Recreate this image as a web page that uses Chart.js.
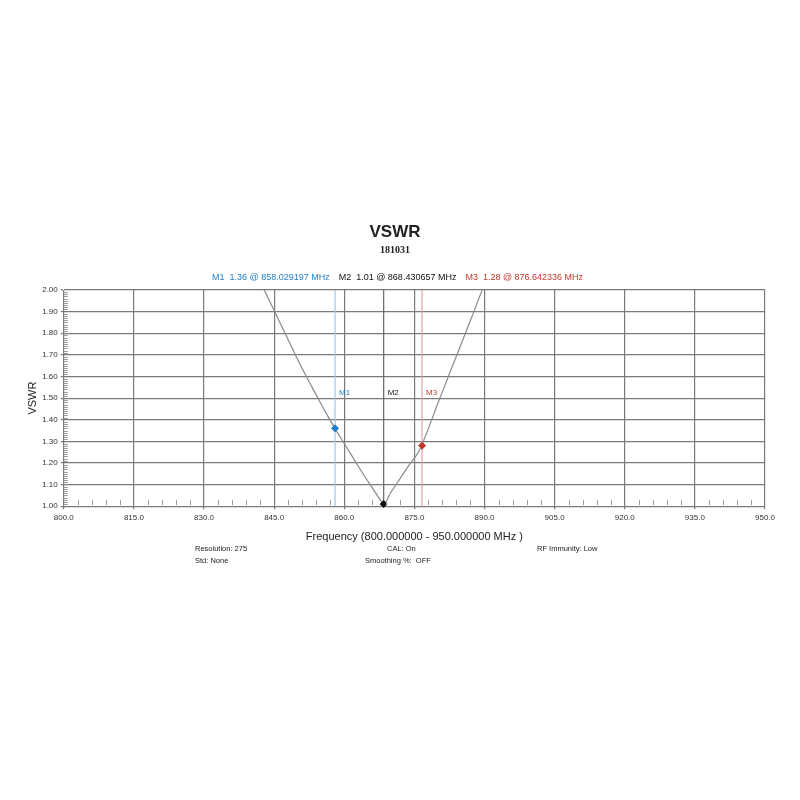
<!DOCTYPE html>
<html>
<head>
<meta charset="utf-8">
<script src="https://cdn.jsdelivr.net/npm/chart.js@4/dist/chart.umd.min.js"></script>
<style>
  html, body { margin: 0; padding: 0; background: #fff; }
  #wrap { width: 800px; height: 800px; }
</style>
</head>
<body>
<div id="wrap"><canvas id="chart" width="800" height="800"></canvas></div>
<script>
// sweep readings (MHz, VSWR)
const freqs = [842, 844, 846, 848, 850, 852, 854, 856, 858, 860, 862, 864, 866, 868, 868.43,
               870, 872, 874, 876, 878, 880, 882, 884, 886, 888, 890];
const vswr  = [2.04, 1.95, 1.86, 1.77, 1.68, 1.595, 1.515, 1.435, 1.36, 1.29, 1.22, 1.15, 1.085, 1.02, 1.01,
               1.065, 1.13, 1.195, 1.255, 1.36, 1.475, 1.585, 1.695, 1.805, 1.915, 2.03];

// markers
const markerNames = ['M1', 'M2', 'M3'];
const markerFreqs = [858.029197, 868.430657, 876.642336];
const markerVswr  = [1.36, 1.01, 1.28];
const markerColors = ['#1f7fc8', '#111111', '#c0392b'];
const markerLineColors = ['#9cc7ea', '#666666', '#e3a3a3'];

// axes
const xMin = 800, xMax = 950, xStep = 15, xMinorStep = 3;
const yMin = 1.0, yMax = 2.0, yStep = 0.1, yMinorStep = 0.01;

const footer = [
  ['Resolution: 275', 195, 549],
  ['Std: None', 195, 561],
  ['CAL: On', 387, 549],
  ['Smoothing %:  OFF', 365, 561],
  ['RF Immunity: Low', 537, 549]
];

const sans = '"Liberation Sans", Arial, sans-serif';

const curve = freqs.map((f, i) => ({ x: f, y: vswr[i] }));

const datasets = [];
markerFreqs.forEach((f, i) => {
  datasets.push({
    type: 'line',
    data: [{ x: f, y: yMin }, { x: f, y: yMax }],
    borderColor: markerLineColors[i],
    borderWidth: 1.2,
    pointRadius: 0,
    order: 3
  });
});
datasets.push({
  type: 'line',
  data: curve,
  borderColor: '#8a8a8a',
  borderWidth: 1.2,
  pointRadius: 0,
  cubicInterpolationMode: 'monotone',
  order: 2
});
markerFreqs.forEach((f, i) => {
  datasets.push({
    type: 'scatter',
    data: [{ x: f, y: markerVswr[i] }],
    backgroundColor: markerColors[i],
    borderColor: markerColors[i],
    pointStyle: 'rectRot',
    pointRadius: 3.5,
    clip: false,
    order: 1
  });
});

// minor ticks, marker labels, headings and footer text
const extras = {
  id: 'extras',
  afterDraw(chart) {
    const ctx = chart.ctx;
    const xs = chart.scales.x, ys = chart.scales.y;
    const a = chart.chartArea;
    ctx.save();
    ctx.strokeStyle = '#999';
    ctx.lineWidth = 1;
    ctx.beginPath();
    for (let v = xMin + xMinorStep; v < xMax; v += xMinorStep) {
      if (Math.abs((v - xMin) % xStep) < 1e-6) continue;
      const px = Math.round(xs.getPixelForValue(v)) + 0.5;
      ctx.moveTo(px, a.bottom - 1);
      ctx.lineTo(px, a.bottom - 6);
    }
    for (let k = 1; k < Math.round((yMax - yMin) / yMinorStep); k++) {
      if (k % 10 === 0) continue;
      const py = Math.round(ys.getPixelForValue(yMin + k * yMinorStep)) + 0.5;
      ctx.moveTo(a.left, py);
      ctx.lineTo(a.left + 4, py);
    }
    ctx.stroke();

    // marker labels
    ctx.font = '8px ' + sans;
    ctx.textBaseline = 'middle';
    ctx.textAlign = 'left';
    markerFreqs.forEach((f, i) => {
      ctx.fillStyle = markerColors[i];
      ctx.fillText(markerNames[i], xs.getPixelForValue(f) + 4, ys.getPixelForValue(1.525));
    });

    // headings
    ctx.textAlign = 'center';
    ctx.fillStyle = '#222';
    ctx.font = 'bold 17px ' + sans;
    ctx.fillText('VSWR', 395, 232);
    ctx.font = 'bold 10px "Liberation Serif", serif';
    ctx.fillText('181031', 395, 250);

    // marker readout
    ctx.font = '9px ' + sans;
    ctx.textAlign = 'left';
    let x = 212;
    markerNames.forEach((n, i) => {
      const t = n + '  ' + markerVswr[i].toFixed(2) + ' @ ' + markerFreqs[i].toFixed(6) + ' MHz';
      ctx.fillStyle = markerColors[i];
      ctx.fillText(t, x, 278);
      x += ctx.measureText(t).width + 9;
    });

    // footer
    ctx.fillStyle = '#222';
    ctx.font = '7.5px ' + sans;
    footer.forEach(([t, fx, fy]) => ctx.fillText(t, fx, fy));
    ctx.restore();
  }
};

new Chart(document.getElementById('chart'), {
  data: { datasets },
  plugins: [extras],
  options: {
    responsive: false,
    animation: false,
    layout: { padding: { top: 290, left: 26, right: 35, bottom: 256 } },
    plugins: { legend: { display: false }, tooltip: { enabled: false } },
    scales: {
      x: {
        type: 'linear',
        min: xMin, max: xMax,
        ticks: {
          stepSize: xStep,
          callback: v => Number(v).toFixed(1),
          font: { family: sans, size: 8 },
          color: '#333',
          maxRotation: 0,
          padding: 4
        },
        grid: { color: '#7a7a7a', lineWidth: 1.2, tickLength: 3 },
        border: { color: '#7a7a7a' },
        title: {
          display: true,
          text: 'Frequency (800.000000 - 950.000000 MHz )',
          font: { family: sans, size: 11 },
          color: '#222',
          padding: { top: 4, bottom: 0 }
        }
      },
      y: {
        min: yMin, max: yMax,
        ticks: {
          stepSize: yStep,
          callback: v => Number(v).toFixed(2),
          font: { family: sans, size: 8 },
          color: '#333',
          padding: 3
        },
        grid: { color: '#7a7a7a', lineWidth: 1.2, tickLength: 3 },
        border: { color: '#7a7a7a' },
        title: {
          display: true,
          text: 'VSWR',
          font: { family: sans, size: 11 },
          color: '#222',
          padding: { top: 0, bottom: 0 }
        }
      }
    }
  }
});
</script>
</body>
</html>
